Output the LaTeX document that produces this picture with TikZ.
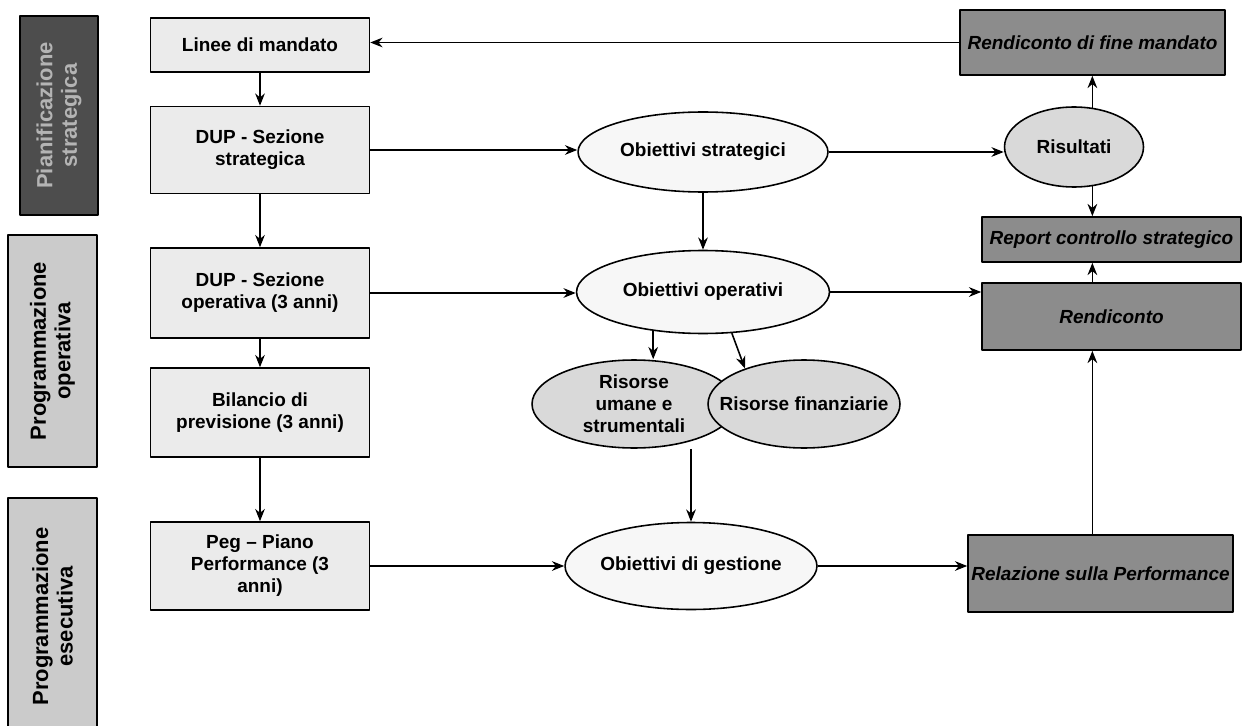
\documentclass[tikz,border=0pt]{standalone}
\usepackage{fontspec}
\setmainfont{Liberation Sans}
\usetikzlibrary{shapes.geometric,arrows.meta}
\definecolor{boxgray}{HTML}{EBEBEB}
\definecolor{ovalwhite}{HTML}{F7F7F7}
\definecolor{ovalgray}{HTML}{D9D9D9}
\definecolor{repgray}{HTML}{8C8C8C}
\definecolor{piangray}{HTML}{4D4D4D}
\definecolor{piantext}{HTML}{B4B4B4}
\definecolor{sidegray}{HTML}{CBCBCB}
\begin{document}
\begin{tikzpicture}[x=0.02cm,y=-0.02cm,>={Stealth[length=7pt,width=5.5pt]},line join=round,line width=0.9pt,
font=\bfseries\fontsize{10.8}{12.5}\selectfont,
box/.style={draw,fill=boxgray,minimum width=4.38cm,align=center,inner sep=1pt},
oval/.style={draw,ellipse,fill=ovalwhite,inner sep=0pt,align=center},
res/.style={draw,ellipse,fill=ovalgray,inner sep=0pt,align=center},
rep/.style={draw,fill=repgray,inner sep=0pt,font=\bfseries\itshape\fontsize{10.8}{12.5}\selectfont},
side/.style={draw,rotate=90,align=center,inner sep=0pt,font=\bfseries\fontsize{12.5}{14}\selectfont}]
\useasboundingbox (0,0) rectangle (1243,726);
% fasce laterali
\node[side,fill=piangray,text=piantext,minimum width=3.98cm,minimum height=1.56cm] (pian) at (59,115.5) {Pianificazione\\strategica};
\node[side,fill=sidegray,minimum width=4.64cm,minimum height=1.78cm] (progop) at (52.5,351) {Programmazione\\operativa};
\node[side,fill=sidegray,minimum width=4.74cm,minimum height=1.78cm] (progese) at (52.5,616.5) {Programmazione\\esecutiva};
% documenti
\node[box,minimum height=1.08cm] (lin) at (260,45) {Linee di mandato};
\node[box,minimum height=1.74cm] (dups) at (260,150) {DUP - Sezione\\strategica};
\node[box,minimum height=1.8cm] (dupo) at (260,293) {DUP - Sezione\\operativa (3 anni)};
\node[box,minimum height=1.78cm] (bil) at (260,412.5) {Bilancio di\\previsione (3 anni)};
\node[box,minimum height=1.76cm] (peg) at (260,566) {Peg -- Piano\\Performance (3\\anni)};
% obiettivi
\node[oval,minimum width=5cm,minimum height=1.6cm] (ob1) at (703,152) {Obiettivi strategici};
\node[oval,minimum width=5.06cm,minimum height=1.66cm] (ob2) at (703,292) {Obiettivi operativi};
\node[res,minimum width=4.08cm,minimum height=1.76cm] (ru) at (634,404) {Risorse\\umane e\\strumentali};
\node[res,inner xsep=-10pt,minimum width=3.84cm,minimum height=1.76cm] (rf) at (804,404) {Risorse finanziarie};
\node[oval,inner xsep=-5pt,minimum width=5.04cm,minimum height=1.74cm] (ges) at (691,566) {Obiettivi di gestione};
\node[res,minimum width=2.78cm,minimum height=1.6cm] (ris) at (1074,147) {Risultati};
% rendicontazione
\node[rep,minimum width=5.3cm,minimum height=1.3cm] (rfm) at (1092.5,42.5) {Rendiconto di fine mandato};
\node[rep,minimum width=5.18cm,minimum height=0.9cm] (rcs) at (1111.5,239.5) {Report controllo strategico};
\node[rep,minimum width=5.18cm,minimum height=1.34cm] (ren) at (1111.5,316.5) {Rendiconto};
\node[rep,minimum width=5.3cm,minimum height=1.54cm] (rel) at (1100.5,573.5) {Relazione sulla Performance};
\draw[->] (lin)--(dups);
\draw[->] (dups)--(dupo);
\draw[->] (dupo)--(bil);
\draw[->] (bil)--(peg);
\draw[->] (rfm.west)--(rfm.west -| lin.east);
\draw[->] (dups.east)--(dups.east -| ob1.west);
\draw[->] (ob1)--(ob2);
\draw[->] (ob1.east)--(ob1.east -| ris.west);
\draw[->] (dupo.east)--(dupo.east -| ob2.west);
\draw[->] (ob2.east)--(ob2.east -| ren.west);
\draw[->] (ob2.218)--(ob2.218 |- ru.north);
\draw[->] (ob2.-55)--(rf.149);
\draw[->] (ges.north |- ru.south)--(ges.north);
\draw[->] (peg)--(ges);
\draw[->] (ges.east)--(ges.east -| rel.west);
\draw[->] (ris.65)--(ris.65 |- rfm.south);
\draw[->] (ris.-65)--(ris.-65 |- rcs.north);
\draw[->] (ren.north -| ris.-65)--(rcs.south -| ris.-65);
\draw[->] (rel.north -| ris.-65)--(ren.south -| ris.-65);
\end{tikzpicture}
\end{document}
